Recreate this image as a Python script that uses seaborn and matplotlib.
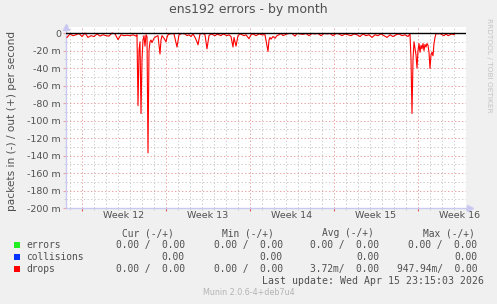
import matplotlib
matplotlib.use("Agg")
import matplotlib.pyplot as plt
import matplotlib.dates as mdates
import matplotlib.transforms as mtransforms
from matplotlib.ticker import FuncFormatter, MultipleLocator, NullFormatter
from matplotlib.patches import Rectangle
import pandas as pd
import seaborn as sns

# ---------------- data ----------------
TITLE = "ens192 errors - by month"
Y_LABEL = "packets in (-) / out (+) per second"
AXIS_START = "2026-03-14 16:00"
AXIS_END = "2026-04-17 00:00"

# hours since AXIS_START, and drops (in direction, milli-packets/s)
hours = [2, 8, 14, 20, 26, 32, 38, 44, 50, 56,
         62, 68, 74, 80, 86, 92, 98, 104, 110, 116,
         122, 128, 134, 140, 142, 144, 146, 148, 150, 152,
         154, 156, 158, 160, 162, 164, 166, 168, 170, 172,
         176, 180, 184, 188, 190, 192, 196, 200, 202, 204,
         208, 212, 216, 222, 226, 232, 238, 242, 246, 250,
         254, 258, 262, 264, 268, 274, 278, 282, 286, 290,
         294, 298, 302, 306, 310, 314, 318, 322, 326, 330,
         334, 336, 340, 344, 348, 352, 356, 360, 366, 370,
         374, 380, 386, 392, 398, 404, 406, 408, 410, 414,
         418, 422, 426, 430, 434, 438, 442, 446, 452, 458,
         462, 468, 474, 480, 486, 492, 498, 504, 510, 516,
         522, 528, 534, 540, 546, 552, 558, 564, 570, 576,
         582, 588, 594, 600, 606, 612, 618, 624, 630, 636,
         642, 648, 654, 660, 666, 672, 678, 684, 688, 690,
         692, 694, 696, 700, 702, 704, 706, 708, 710, 712,
         714, 716, 718, 720, 722, 724, 726, 728, 730, 732,
         734, 736, 738, 740, 744, 748, 752, 756, 760, 764,
         768, 772, 776, 778]
drops_in = [-5, -1, -3, -2, -0.5, -4, 0, -5, -3, -4,
            -1, -3.5, -2, -3, -3.5, 0, -1, -7.5, -2, -3,
            -2.5, -3, -2, -3.5, -2, -83, -20, -10, -92, -30,
            -8, -3, -15, -2, -4, -137, -20, -10, -8, -11,
            -6, -4, -3, -24, -8, -3, -6, -10, -5, -2,
            -1, -0.5, -1, -16, -2, -0.5, -1, -3, -2, -4,
            -1, -5, -10, -13.5, -1, -0.5, -2, -18, -3, -1,
            -2, -3, -1.5, -2, -3, -1, -2, -3, -2, -4,
            -16, -5, -15, -3, -1, -2, -3, -2, -6.5, -2,
            -1, -3, -1, -2, -2, -21, -8, -5, -7, -4,
            -6, -3, -2, -0.5, -3, -2, -1, -0.5, -0.5, -3.5,
            -0.5, -1, -1.5, -0.5, -3, -0.5, -1, -0.5, -3, -0.5,
            -1, -0.5, -3, -0.5, -1, -3, -1, -2, -3, -1,
            -2, -4, -1, -3, -2, -5, -2, -3, -1, -3,
            -5, -2, -4, -2, -1, -3, -2, -4, -1, -30,
            -92, -30, -10, -25, -40, -20, -12, -22, -14, -18,
            -12, -20, -13, -16, -12, -14, -22, -40.5, -25, -22,
            -26, -12, -5, -0.5, -1, -0.5, -2, -3, -1, -3,
            -2, -1, -2, -0.5]

Y_MIN, Y_MAX = -200, 6.9
Y_MAJOR, Y_MINOR = 20, 10

legend_names = ["errors", "collisions", "drops"]
legend_colors = ["#22ee22", "#0033ff", "#ff0000"]
col_headers = ["Cur (-/+)", "Min (-/+)", "Avg (-/+)", "Max (-/+)"]
errors_vals = ["0.00 /  0.00", "0.00 /  0.00", "0.00 /  0.00", "0.00 /  0.00"]
collisions_vals = ["0.00", "0.00", "0.00", "0.00"]
drops_vals = ["0.00 /  0.00", "0.00 /  0.00", "3.72m/  0.00", "947.94m/  0.00"]
last_update = "Last update: Wed Apr 15 23:15:03 2026"
footer = "Munin 2.0.6-4+deb7u4"
watermark = "RRDTOOL / TOBI OETIKER"

# ---------------- figure ----------------
W, H = 497, 304
BG = "#f0f0f0"
TXT = "#505050"
RED_GRID = "#eaa2a2"
GRAY_GRID = "#cccccc"
AXIS_COL = "#c8c8f0"

fig = plt.figure(figsize=(W / 100, H / 100), dpi=100, facecolor=BG)


def fx(px):
    return px / W


def fy(py):
    return 1 - py / H


ax = fig.add_axes([fx(66), fy(208), fx(400), (208 - 27) / H])
ax.set_facecolor("white")

start = pd.Timestamp(AXIS_START)
end = pd.Timestamp(AXIS_END)
df = pd.DataFrame({"time": start + pd.to_timedelta(hours, unit="h"),
                   "drops": drops_in})

sns.lineplot(data=df, x="time", y="drops", color="#ff0000", lw=0.8,
             estimator=None, ax=ax, zorder=4)

ax.set_xlim(start, end)
ax.set_ylim(Y_MIN, Y_MAX)
ax.set_xlabel("")
ax.set_ylabel("")

# grid
ax.xaxis.set_major_locator(mdates.WeekdayLocator(byweekday=mdates.MO))
ax.xaxis.set_minor_locator(mdates.DayLocator())
ax.xaxis.set_major_formatter(NullFormatter())
ax.yaxis.set_major_locator(MultipleLocator(Y_MAJOR))
ax.yaxis.set_minor_locator(MultipleLocator(Y_MINOR))
ax.yaxis.set_major_formatter(
    FuncFormatter(lambda v, _: "0" if abs(v) < 1e-9 else f"{int(round(v))} m"))

dash = (0, (1.4, 2.2))
ax.grid(which="minor", color=GRAY_GRID, lw=0.7, linestyle=dash, zorder=1)
ax.grid(which="major", color=RED_GRID, lw=0.7, linestyle=dash, zorder=2)
ax.set_axisbelow(True)

ax.tick_params(axis="y", which="major", length=2, color=RED_GRID,
               labelsize=6.8, labelcolor=TXT, pad=1.6)
ax.tick_params(axis="y", which="minor", length=1.5, color=GRAY_GRID)
ax.tick_params(axis="x", which="major", length=2.5, color="#e06060")
ax.tick_params(axis="x", which="minor", length=1.5, color=GRAY_GRID)

for s in ("top", "right"):
    ax.spines[s].set_visible(False)
for s in ("left", "bottom"):
    ax.spines[s].set_color(AXIS_COL)
    ax.spines[s].set_linewidth(1.0)

# zero line
ax.axhline(0, color="black", lw=1.0, zorder=5)

# axis arrows
ax.plot([0], [1.0], marker="^", ms=4, color=AXIS_COL, transform=ax.transAxes,
        clip_on=False, zorder=6)
ax.plot([1.01], [0], marker=">", ms=4, color=AXIS_COL, transform=ax.transAxes,
        clip_on=False, zorder=6)

# week labels at mid-week
trans = mtransforms.blended_transform_factory(ax.transData, ax.transAxes)
mondays = pd.date_range(start.normalize(), end, freq="W-MON")
for m in mondays:
    mid = m + pd.Timedelta(days=3, hours=12)
    if start <= mid <= end:
        ax.text(mid, -(216 - 208) / (208 - 27), f"Week {mid.isocalendar()[1]}",
                transform=trans, ha="center", va="center", fontsize=6.8,
                color=TXT)

# title, y label, watermark
fig.text(fx(248), fy(10), TITLE, ha="center", va="center", fontsize=9, color=TXT)
fig.text(fx(12), fy(121), Y_LABEL, rotation=90, ha="center", va="center",
         fontsize=7.6, color=TXT)
fig.text(fx(489), fy(65), watermark, rotation=270, ha="center", va="center",
         fontsize=5.3, color="#c4c4c4")

# legend table
MONO = "DejaVu Sans Mono"
header_x = [121.5, 222.5, 322.5, 423]
for hx, h in zip(header_x, col_headers):
    fig.text(fx(hx), fy(233), h, ha="left", va="center", fontsize=6.9,
             family=MONO, color=TXT)

row_y = [245.3, 257.3, 269.3]
val_right = [184.5, 282.5, 379.5, 477.5]
rows = [errors_vals, collisions_vals, drops_vals]
for ry, name, col, vals in zip(row_y, legend_names, legend_colors, rows):
    fig.patches.append(Rectangle((fx(14), fy(ry + 3)), fx(6), 6 / H,
                                 transform=fig.transFigure, facecolor=col,
                                 edgecolor="none"))
    fig.text(fx(26.5), fy(ry), name, ha="left", va="center", fontsize=6.9,
             family=MONO, color=TXT)
    for vx, v in zip(val_right, vals):
        fig.text(fx(vx), fy(ry), v, ha="right", va="center", fontsize=6.9,
                 family=MONO, color=TXT)

fig.text(fx(483.5), fy(281.3), last_update, ha="right", va="center",
         fontsize=7.1, family=MONO, color=TXT)
fig.text(fx(249), fy(292.7), footer, ha="center", va="center", fontsize=5.8,
         color="#b4b4b4")

fig.savefig("out.png", dpi=100, facecolor=BG)
